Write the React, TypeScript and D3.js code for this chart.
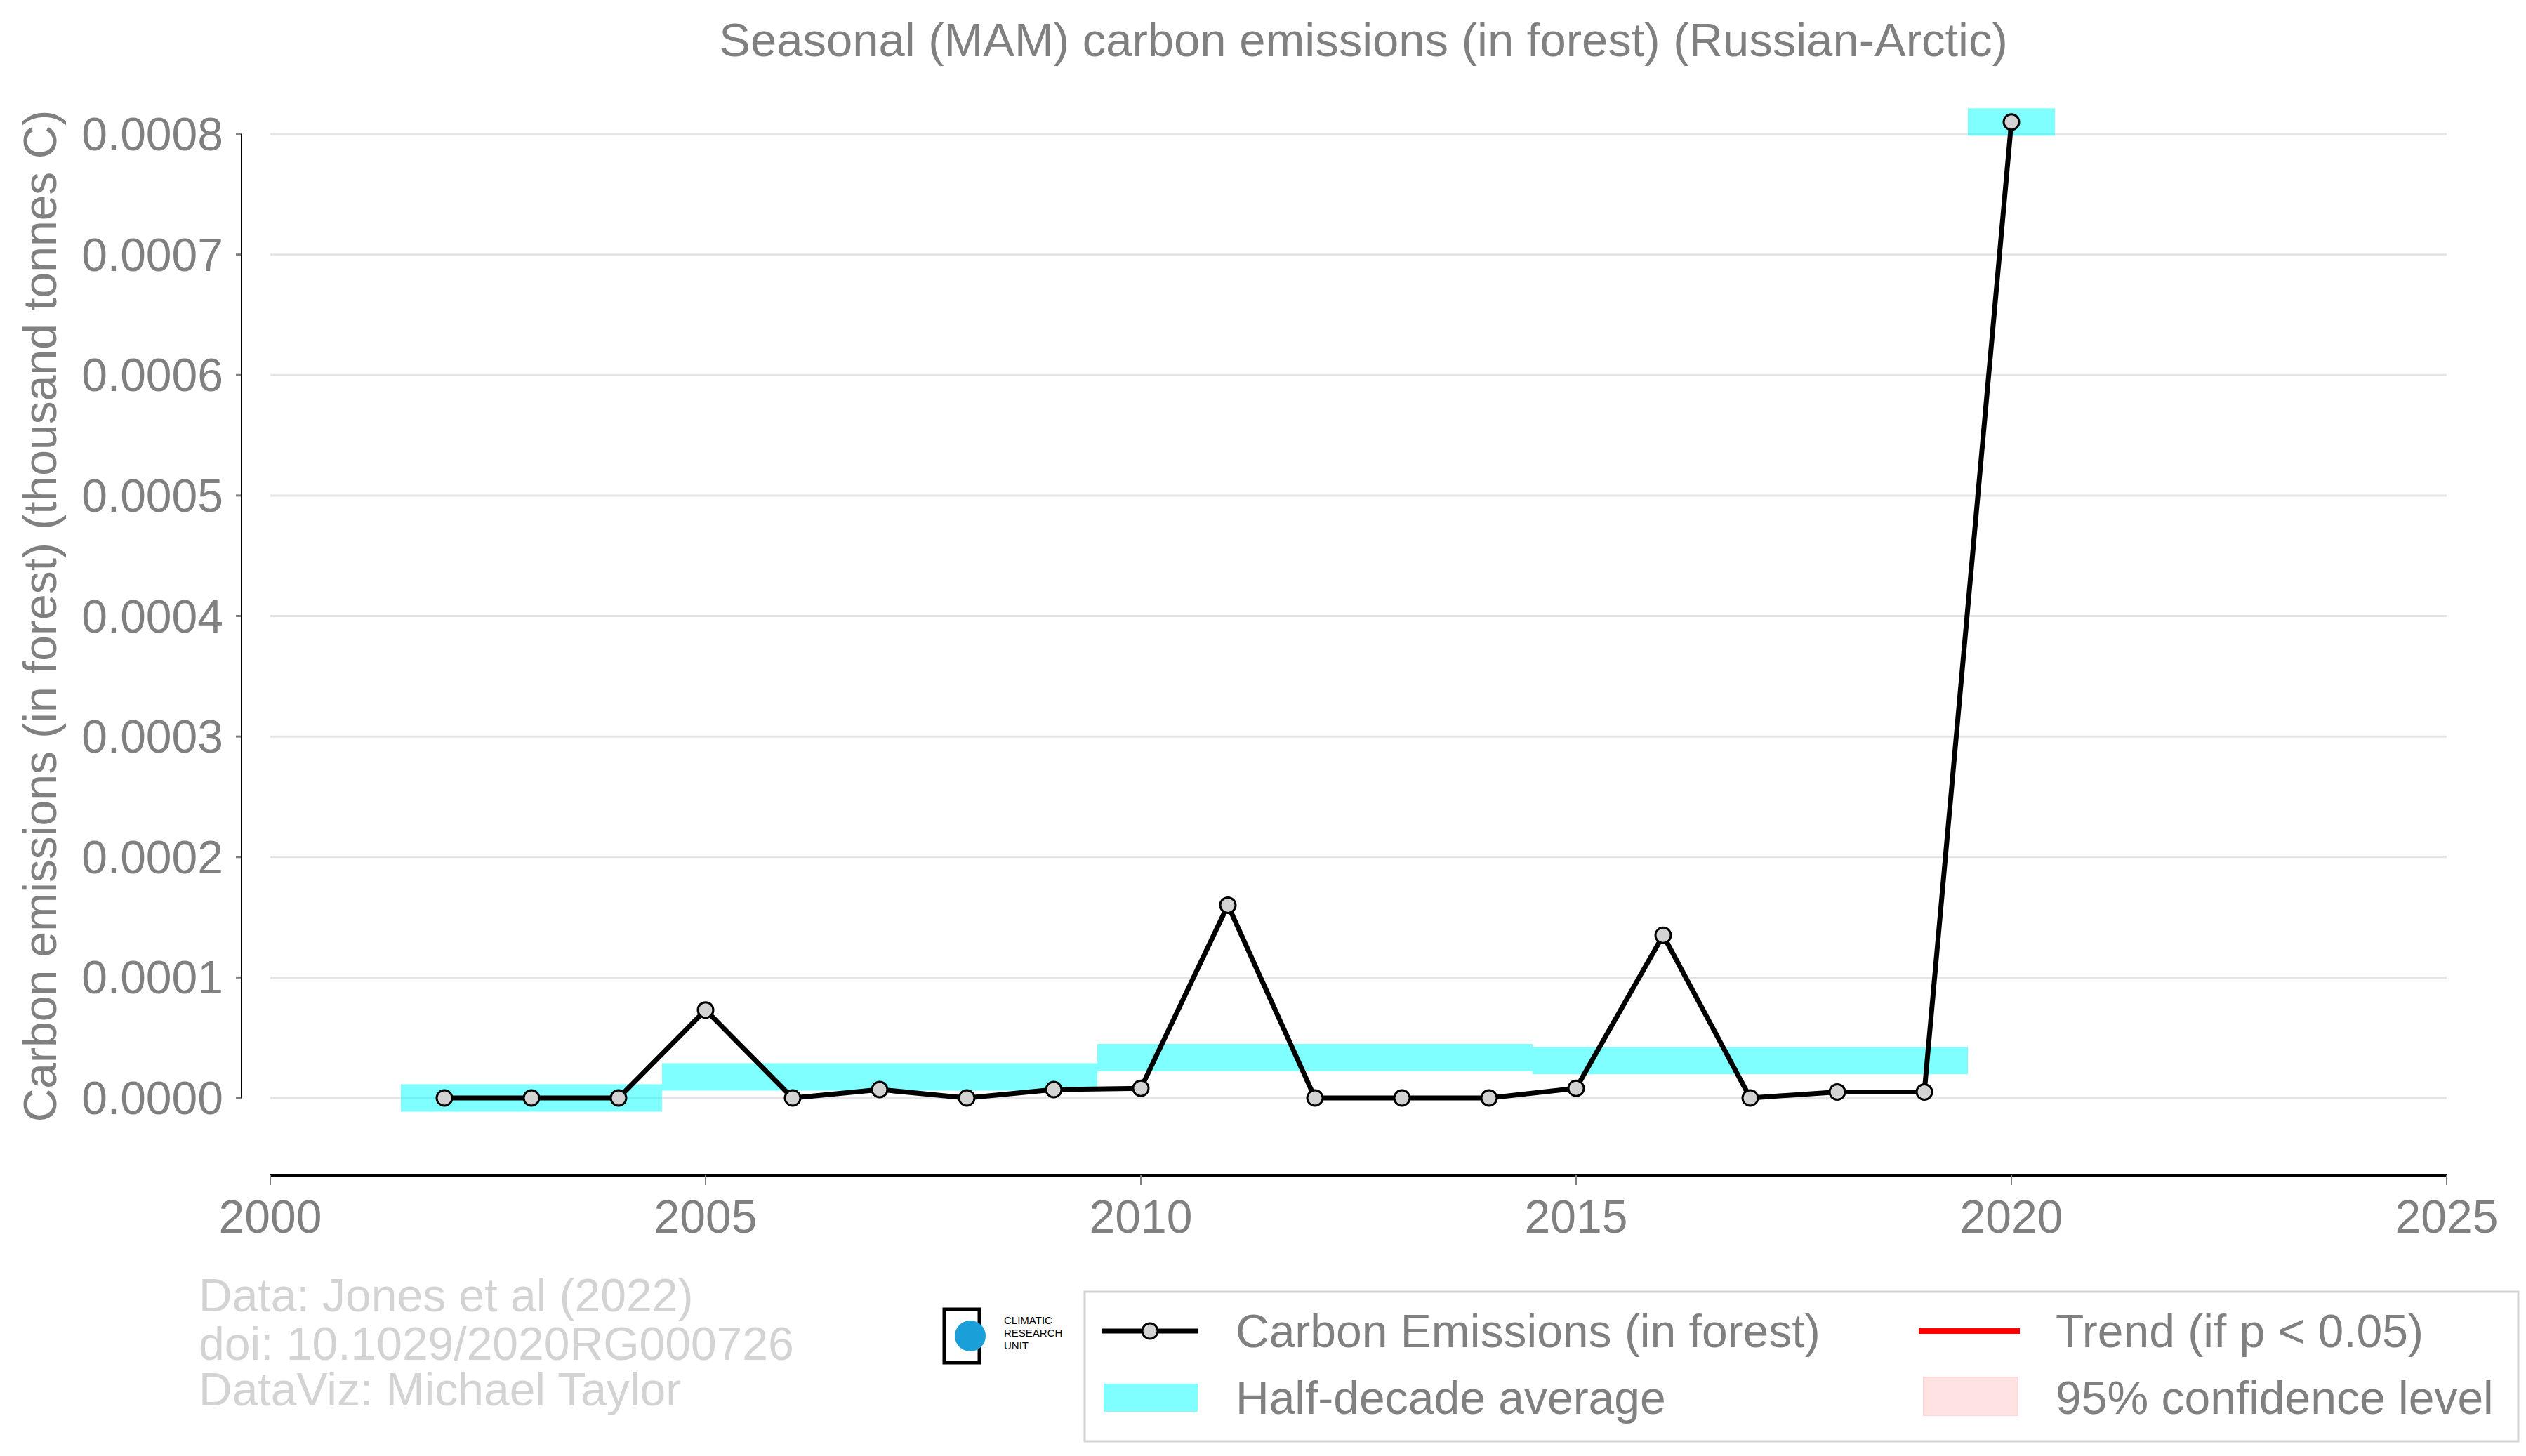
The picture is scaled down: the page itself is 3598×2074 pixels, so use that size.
import React from 'react';
import * as d3 from 'd3';

const years = [2002, 2003, 2004, 2005, 2006, 2007, 2008, 2009, 2010, 2011, 2012, 2013, 2014, 2015, 2016, 2017, 2018, 2019, 2020];
const emissions = [0, 0, 0, 0.000073, 0, 0.000007, 0, 0.000007, 0.000008, 0.00016, 0, 0, 0, 0.000008, 0.000135, 0, 0.000005, 0.000005, 0.00081];
const halfDecadeStart = [2001.5, 2004.5, 2009.5, 2014.5, 2019.5];
const halfDecadeEnd = [2004.5, 2009.5, 2014.5, 2019.5, 2020.5];
const halfDecadeMean = [0, 0.0000175, 0.0000335, 0.000031, 0.00081];
const yTicks = [0, 0.0001, 0.0002, 0.0003, 0.0004, 0.0005, 0.0006, 0.0007, 0.0008];
const xTicks = [2000, 2005, 2010, 2015, 2020, 2025];

const W = 3598, H = 2074;
const font = '"Liberation Sans", Arial, sans-serif';
const grey = '#808080';
const fs = 66;

export default function App() {
  const x = d3.scaleLinear().domain([2000, 2025]).range([385, 3485]);
  const y = d3.scaleLinear().domain([0, 0.0008]).range([1564, 191]);
  const axisY = 1674;
  const band = 39;
  const line = d3.line<number>().x((_, i) => x(years[i])).y(d => y(d));

  return (
    <svg width={W} height={H} style={{ display: 'block', margin: -8 }} fontFamily={font}>
      <rect width={W} height={H} fill="#fff" />
      <text x={1942} y={80} textAnchor="middle" fontSize={67} fill={grey}>
        Seasonal (MAM) carbon emissions (in forest) (Russian-Arctic)
      </text>
      {yTicks.map(t => (
        <g key={t}>
          <line x1={385} x2={3485} y1={y(t)} y2={y(t)} stroke="#e5e5e5" strokeWidth={3} />
          <line x1={336} x2={344} y1={y(t)} y2={y(t)} stroke={grey} strokeWidth={3} />
          <text x={318} y={y(t)} dy="0.35em" textAnchor="end" fontSize={fs} fill={grey}>{t.toFixed(4)}</text>
        </g>
      ))}
      <line x1={344} x2={344} y1={y(0.0008)} y2={y(0)} stroke="#000" strokeWidth={2} />
      <text transform={`translate(80,${y(0.0004)}) rotate(-90)`} textAnchor="middle" fontSize={fs} fill={grey}>
        Carbon emissions (in forest) (thousand tonnes C)
      </text>
      <line x1={385} x2={3485} y1={axisY} y2={axisY} stroke="#000" strokeWidth={4} />
      {xTicks.map(t => (
        <g key={t}>
          <line x1={x(t)} x2={x(t)} y1={axisY} y2={axisY + 14} stroke={grey} strokeWidth={2} />
          <text x={x(t)} y={axisY + 82} textAnchor="middle" fontSize={fs} fill={grey}>{t}</text>
        </g>
      ))}
      {halfDecadeMean.map((m, i) => (
        <rect key={i} x={x(halfDecadeStart[i])} width={x(halfDecadeEnd[i]) - x(halfDecadeStart[i])}
          y={y(m) - band / 2} height={band} fill="#00ffff" opacity={0.5} />
      ))}
      <path d={line(emissions) || ''} fill="none" stroke="#000" strokeWidth={7} />
      {emissions.map((v, i) => (
        <circle key={i} cx={x(years[i])} cy={y(v)} r={11} fill="#d3d3d3" stroke="#000" strokeWidth={3} />
      ))}
      <g fontSize={fs} fill="#d3d3d3">
        <text x={283} y={1868}>Data: Jones et al (2022)</text>
        <text x={283} y={1937}>doi: 10.1029/2020RG000726</text>
        <text x={283} y={2002}>DataViz: Michael Taylor</text>
      </g>
      <g>
        <rect x={1345} y={1865} width={50} height={76} fill="none" stroke="#000" strokeWidth={5} />
        <circle cx={1382} cy={1903} r={22} fill="#1a9fd8" />
        <g fontSize={15} fill="#000">
          <text x={1430} y={1886}>CLIMATIC</text>
          <text x={1430} y={1904}>RESEARCH</text>
          <text x={1430} y={1922}>UNIT</text>
        </g>
      </g>
      <rect x={1545} y={1840} width={2042} height={213} fill="#fff" stroke="#d3d3d3" strokeWidth={3} />
      <g fontSize={fs} fill={grey}>
        <line x1={1569} x2={1707} y1={1896} y2={1896} stroke="#000" strokeWidth={7} />
        <circle cx={1638} cy={1896} r={11} fill="#d3d3d3" stroke="#000" strokeWidth={3} />
        <text x={1760} y={1896} dy="0.35em">Carbon Emissions (in forest)</text>
        <rect x={1572} y={1971} width={134} height={40} fill="#00ffff" opacity={0.5} />
        <text x={1760} y={1991} dy="0.35em">Half-decade average</text>
        <line x1={2733} x2={2877} y1={1896} y2={1896} stroke="#ff0000" strokeWidth={8} />
        <text x={2928} y={1896} dy="0.35em">Trend (if p &lt; 0.05)</text>
        <rect x={2740} y={1962} width={134} height={54} fill="#ffdddd" stroke="#ffcccc" strokeWidth={2} opacity={0.8} />
        <text x={2928} y={1991} dy="0.35em">95% confidence level</text>
      </g>
    </svg>
  );
}
